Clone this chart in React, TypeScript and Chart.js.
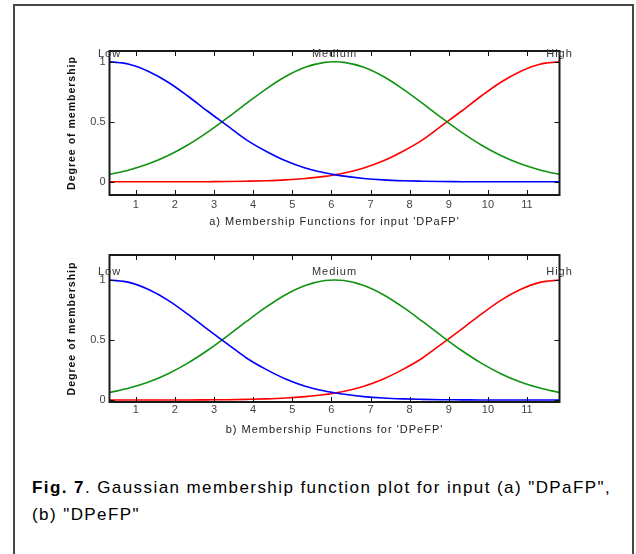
import React, { useEffect, useRef } from "react";
import { Chart, registerables } from "chart.js";

Chart.register(...registerables);

// ---------------- data ----------------
const X_POINTS = [0.33, 0.83, 1.33, 1.83, 2.33, 2.83, 3.33, 3.83, 4.33, 4.83, 5.33, 5.83, 6.08, 6.33, 6.83, 7.33, 7.83, 8.33, 8.83, 9.33, 9.83, 10.33, 10.83, 11.33, 11.83];

const LOW_A = [1.0, 0.98, 0.92, 0.83, 0.715, 0.59, 0.47, 0.35, 0.255, 0.175, 0.115, 0.075, 0.06, 0.047, 0.028, 0.016, 0.009, 0.005, 0.002, 0.001, 0, 0, 0, 0, 0];
const MEDIUM_A = [0.062, 0.099, 0.15, 0.219, 0.307, 0.412, 0.53, 0.654, 0.773, 0.877, 0.954, 0.995, 1.0, 0.995, 0.954, 0.877, 0.773, 0.654, 0.53, 0.412, 0.307, 0.219, 0.15, 0.099, 0.062];
const HIGH_A = [0, 0, 0, 0, 0, 0.001, 0.002, 0.005, 0.009, 0.016, 0.028, 0.045, 0.058, 0.073, 0.115, 0.175, 0.255, 0.35, 0.47, 0.59, 0.715, 0.83, 0.92, 0.98, 1.0];

const LOW_B = [1.0, 0.98, 0.92, 0.83, 0.715, 0.59, 0.47, 0.35, 0.255, 0.175, 0.115, 0.075, 0.06, 0.047, 0.028, 0.016, 0.009, 0.005, 0.002, 0.001, 0, 0, 0, 0, 0];
const MEDIUM_B = [0.062, 0.099, 0.15, 0.219, 0.307, 0.412, 0.53, 0.654, 0.773, 0.877, 0.954, 0.995, 1.0, 0.995, 0.954, 0.877, 0.773, 0.654, 0.53, 0.412, 0.307, 0.219, 0.15, 0.099, 0.062];
const HIGH_B = [0, 0, 0, 0, 0, 0.001, 0.002, 0.005, 0.009, 0.016, 0.028, 0.045, 0.058, 0.073, 0.115, 0.175, 0.255, 0.35, 0.47, 0.59, 0.715, 0.83, 0.92, 0.98, 1.0];

const MF_NAMES = ["Low", "Medium", "High"];
const MF_CENTERS = [0.33, 6.08, 11.83];
const MF_COLORS = ["#0000ff", "#129212", "#ff0000"];

const X_MIN = 0.33;
const X_MAX = 11.83;
const X_TICKS = [1, 2, 3, 4, 5, 6, 7, 8, 9, 10, 11];
const X_TICK_LABELS = ["1", "2", "3", "4", "5", "6", "7", "8", "9", "10", "11"];
const Y_TICKS = [0, 0.5, 1];
const Y_TICK_LABELS = ["0", "0.5", "1"];
const Y_RANGE_A = [-0.11, 1.09];
const Y_RANGE_B = [-0.017, 1.208];

const Y_TITLE = "Degree of membership";
const X_TITLE_A = "a) Membership Functions for input 'DPaFP'";
const X_TITLE_B = "b) Membership Functions for 'DPeFP'";

const CAPTION_BOLD = "Fig. 7";
const CAPTION_LINE1 = '. Gaussian membership function plot for input (a) "DPaFP",';
const CAPTION_LINE2 = '(b) "DPeFP"';

const FONT = "'Liberation Sans', Arial, Helvetica, sans-serif";

// ---------------- plugin: box, inward ticks, labels, titles ----------------
const decorPlugin = {
  id: "decor",
  afterDatasetsDraw(chart: any, _args: any, opts: any) {
    const { ctx, chartArea: a, scales } = chart;
    const xs = scales.x;
    const ys = scales.y;
    ctx.save();
    // inward tick marks
    ctx.strokeStyle = "#111";
    ctx.lineWidth = 1;
    ctx.beginPath();
    xs.ticks.forEach((t: any) => {
      const px = Math.round(xs.getPixelForValue(t.value)) + 0.5;
      ctx.moveTo(px, a.bottom);
      ctx.lineTo(px, a.bottom - 5);
      ctx.moveTo(px, a.top);
      ctx.lineTo(px, a.top + 5);
    });
    ys.ticks.forEach((t: any) => {
      const py = Math.round(ys.getPixelForValue(t.value)) + 0.5;
      ctx.moveTo(a.left, py);
      ctx.lineTo(a.left + 5, py);
      ctx.moveTo(a.right, py);
      ctx.lineTo(a.right - 5, py);
    });
    ctx.stroke();
    // axes box
    ctx.lineWidth = 2;
    ctx.strokeStyle = "#1a1a1a";
    ctx.strokeRect(a.left, a.top, a.right - a.left, a.bottom - a.top);

    // membership function names
    ctx.font = `11px ${FONT}`;
    (ctx as any).letterSpacing = "1px";
    ctx.fillStyle = "#333";
    ctx.textAlign = "center";
    ctx.textBaseline = "middle";
    const yl = ys.getPixelForValue(1) - 8;
    MF_NAMES.forEach((n, i) => {
      ctx.fillText(n, xs.getPixelForValue(MF_CENTERS[i]), yl);
    });

    // x title
    ctx.fillStyle = "#222";
    ctx.fillText(opts.xTitle, (a.left + a.right) / 2, a.bottom + opts.xTitleOffset);

    // y title
    ctx.font = `bold 10.5px ${FONT}`;
    ctx.fillStyle = "#111";
    ctx.translate(opts.yTitleX, (a.top + a.bottom) / 2);
    ctx.rotate(-Math.PI / 2);
    ctx.fillText(Y_TITLE, 0, 0);
    ctx.restore();
  },
};

type PlotProps = {
  low: number[];
  medium: number[];
  high: number[];
  yRange: number[];
  xTitle: string;
  left: number;
  top: number;
  width: number;
  height: number;
  padTop: number;
  padRight: number;
  yAxisWidth: number;
  xAxisHeight: number;
  tickPad: number;
  xTitleOffset: number;
  yTitleX: number;
};

function MFPlot(p: PlotProps) {
  const ref = useRef<HTMLCanvasElement | null>(null);
  useEffect(() => {
    if (!ref.current) return;
    const series = [p.low, p.medium, p.high];
    const chart = new Chart(ref.current, {
      type: "line",
      data: {
        datasets: series.map((vals, k) => ({
          label: MF_NAMES[k],
          data: X_POINTS.map((x, i) => ({ x, y: vals[i] })),
          borderColor: MF_COLORS[k],
          backgroundColor: MF_COLORS[k],
          borderWidth: 1.6,
          pointRadius: 0,
          fill: false,
          cubicInterpolationMode: "monotone",
        })),
      },
      options: {
        animation: false,
        responsive: false,
        maintainAspectRatio: false,
        devicePixelRatio: 1,
        layout: { padding: { top: p.padTop, right: p.padRight, left: 0, bottom: 0 } },
        plugins: {
          legend: { display: false },
          tooltip: { enabled: false },
          decor: { xTitle: p.xTitle, xTitleOffset: p.xTitleOffset, yTitleX: p.yTitleX },
        },
        scales: {
          x: {
            type: "linear",
            min: X_MIN,
            max: X_MAX,
            grid: { display: false, drawTicks: false },
            border: { display: false },
            ticks: {
              autoSkip: false,
              maxRotation: 0,
              padding: p.tickPad,
              color: "#444",
              font: { family: FONT, size: 11 },
              callback: (_v: any, i: number) => X_TICK_LABELS[i],
            },
            afterBuildTicks: (s: any) => {
              s.ticks = X_TICKS.map((v) => ({ value: v }));
            },
            afterFit: (s: any) => {
              s.height = p.xAxisHeight;
            },
          },
          y: {
            type: "linear",
            min: p.yRange[0],
            max: p.yRange[1],
            grid: { display: false, drawTicks: false },
            border: { display: false },
            ticks: {
              padding: 4,
              color: "#444",
              font: { family: FONT, size: 11 },
              callback: (_v: any, i: number) => Y_TICK_LABELS[i],
            },
            afterBuildTicks: (s: any) => {
              s.ticks = Y_TICKS.map((v) => ({ value: v }));
            },
            afterFit: (s: any) => {
              s.width = p.yAxisWidth;
            },
          },
        },
      } as any,
      plugins: [decorPlugin as any],
    });
    return () => chart.destroy();
  }, []);
  return (
    <canvas
      ref={ref}
      width={p.width}
      height={p.height}
      style={{ position: "absolute", left: p.left, top: p.top, width: p.width, height: p.height }}
    />
  );
}

export default function App() {
  return (
    <div
      style={{
        position: "absolute",
        left: 0,
        top: 0,
        width: 636,
        height: 554,
        overflow: "hidden",
        background: "#fff",
      }}
    >
      <div
        style={{
          position: "absolute",
          left: 13,
          top: 4,
          width: 621,
          height: 600,
          boxSizing: "border-box",
          border: "2px solid #474747",
        }}
      />
      <MFPlot
        low={LOW_A}
        medium={MEDIUM_A}
        high={HIGH_A}
        yRange={Y_RANGE_A}
        xTitle={X_TITLE_A}
        left={40}
        top={20}
        width={560}
        height={222}
        padTop={31}
        padRight={40.5}
        yAxisWidth={69.5}
        xAxisHeight={47}
        tickPad={3}
        xTitleOffset={26.7}
        yTitleX={31.7}
      />
      <MFPlot
        low={LOW_B}
        medium={MEDIUM_B}
        high={HIGH_B}
        yRange={Y_RANGE_B}
        xTitle={X_TITLE_B}
        left={40}
        top={242}
        width={560}
        height={208}
        padTop={13}
        padRight={40.5}
        yAxisWidth={69.5}
        xAxisHeight={48}
        tickPad={1.5}
        xTitleOffset={28}
        yTitleX={31.7}
      />
      <div
        style={{
          position: "absolute",
          left: 32,
          top: 474,
          fontFamily: FONT,
          fontSize: 17,
          letterSpacing: "1.42px",
          lineHeight: "27px",
          color: "#000",
          whiteSpace: "nowrap",
        }}
      >
        <b>{CAPTION_BOLD}</b>
        {CAPTION_LINE1}
        <br />
        {CAPTION_LINE2}
      </div>
    </div>
  );
}
